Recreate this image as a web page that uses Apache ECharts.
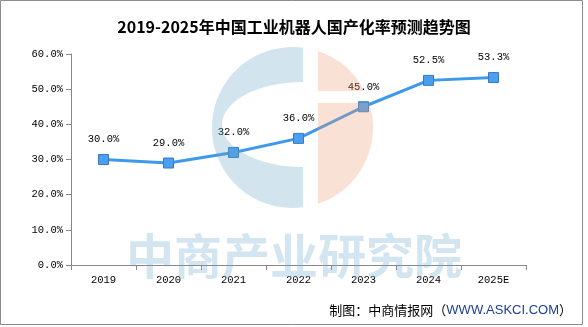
<!DOCTYPE html>
<html>
<head>
<meta charset="utf-8">
<script src="https://cdn.jsdelivr.net/npm/echarts@6/dist/echarts.min.js"></script>
<style>html,body{margin:0;padding:0;background:#fff;}#c{width:588px;height:327px;}</style>
</head>
<body>
<div id="c"></div>
<script>
var categories = ['2019', '2020', '2021', '2022', '2023', '2024', '2025E'];
var rates = [30.0, 29.0, 32.0, 36.0, 45.0, 52.5, 53.3];
var yTicks = { min: 0, max: 60, interval: 10 };
var titleText = '2019-2025年中国工业机器人国产化率预测趋势图';
var monoFont = '"Liberation Mono", "DejaVu Sans Mono", monospace';

echarts.graphic.registerShape('logoBlue', echarts.graphic.extendPath(
  'M303 47.7 A80.5 80.5 0 1 0 303 207.3 L303 167 A81 42.5 0 0 1 303 82 Z'));
echarts.graphic.registerShape('logoPeachTop', echarts.graphic.extendPath(
  'M318 51.1 A80.5 80.5 0 0 1 364.25 91 L318 91 Z'));
echarts.graphic.registerShape('logoPeachBottom', echarts.graphic.extendPath(
  'M318 103 L369.2 103 A80.5 80.5 0 0 1 318 203.85 Z'));

var chart = echarts.init(document.getElementById('c'), null, { renderer: 'canvas' });
chart.setOption({
  backgroundColor: '#ffffff',
  animation: false,
  title: {
    text: titleText,
    left: 'center',
    top: 14,
    textStyle: { fontFamily: '"Noto Sans CJK SC", sans-serif', fontSize: 16, fontWeight: 'bold', color: '#000' }
  },
  grid: { left: 71, right: 62, top: 54, bottom: 62 },
  xAxis: {
    type: 'category',
    data: categories,
    boundaryGap: true,
    axisLine: { lineStyle: { color: '#888', width: 1 } },
    axisTick: { show: true, length: 5, lineStyle: { color: '#888' } },
    axisLabel: { color: '#000', fontFamily: monoFont, fontSize: 10.5, margin: 10 }
  },
  yAxis: {
    type: 'value',
    min: yTicks.min,
    max: yTicks.max,
    interval: yTicks.interval,
    axisLine: { show: true, lineStyle: { color: '#888', width: 1 } },
    axisTick: { show: true, length: 5, lineStyle: { color: '#888' } },
    splitLine: { show: false },
    axisLabel: {
      color: '#000', fontFamily: monoFont, fontSize: 10.5, margin: 8,
      formatter: function (v) { return v.toFixed(1) + '%'; }
    }
  },
  series: [{
    type: 'line',
    data: rates,
    symbol: 'rect',
    symbolSize: 10,
    lineStyle: { color: '#3d99e9', width: 3 },
    itemStyle: { color: '#4a9ff0', borderColor: '#3b78c2', borderWidth: 1 },
    label: {
      show: true, position: 'top', distance: 9,
      color: '#000', fontFamily: monoFont, fontSize: 10.5,
      formatter: function (p) { return p.value.toFixed(1) + '%'; }
    },
    z: 2
  }],
  graphic: [
    { type: 'logoBlue', z: 100, silent: true, style: { fill: 'rgba(105,165,198,0.3)' } },
    { type: 'logoPeachTop', z: 100, silent: true, style: { fill: 'rgba(237,156,120,0.3)' } },
    { type: 'logoPeachBottom', z: 100, silent: true, style: { fill: 'rgba(237,156,120,0.3)' } },
    {
      type: 'text', z: 100, silent: true,
      x: 294, y: 256,
      style: {
        text: '中商产业研究院', fill: 'rgba(110,168,205,0.3)',
        font: 'bold 48px "Noto Sans CJK SC", sans-serif',
        align: 'center', verticalAlign: 'middle'
      }
    },
    {
      type: 'text', z: 101, silent: true,
      right: 16, top: 304,
      style: {
        rich: {
          a: { fill: '#000', font: '13px "Noto Sans CJK SC", sans-serif' },
          b: { fill: '#1c3f94', font: '13px "Liberation Sans", Arial, sans-serif' }
        },
        text: '{a|制图：中商情报网（}{b|WWW.ASKCI.COM}{a|）}'
      }
    },
    {
      type: 'rect', z: 102, silent: true,
      shape: { x: 0.5, y: 0.5, width: 582, height: 324 },
      style: { fill: 'none', stroke: '#8c8c8c', lineWidth: 1 }
    }
  ]
});
</script>
</body>
</html>
